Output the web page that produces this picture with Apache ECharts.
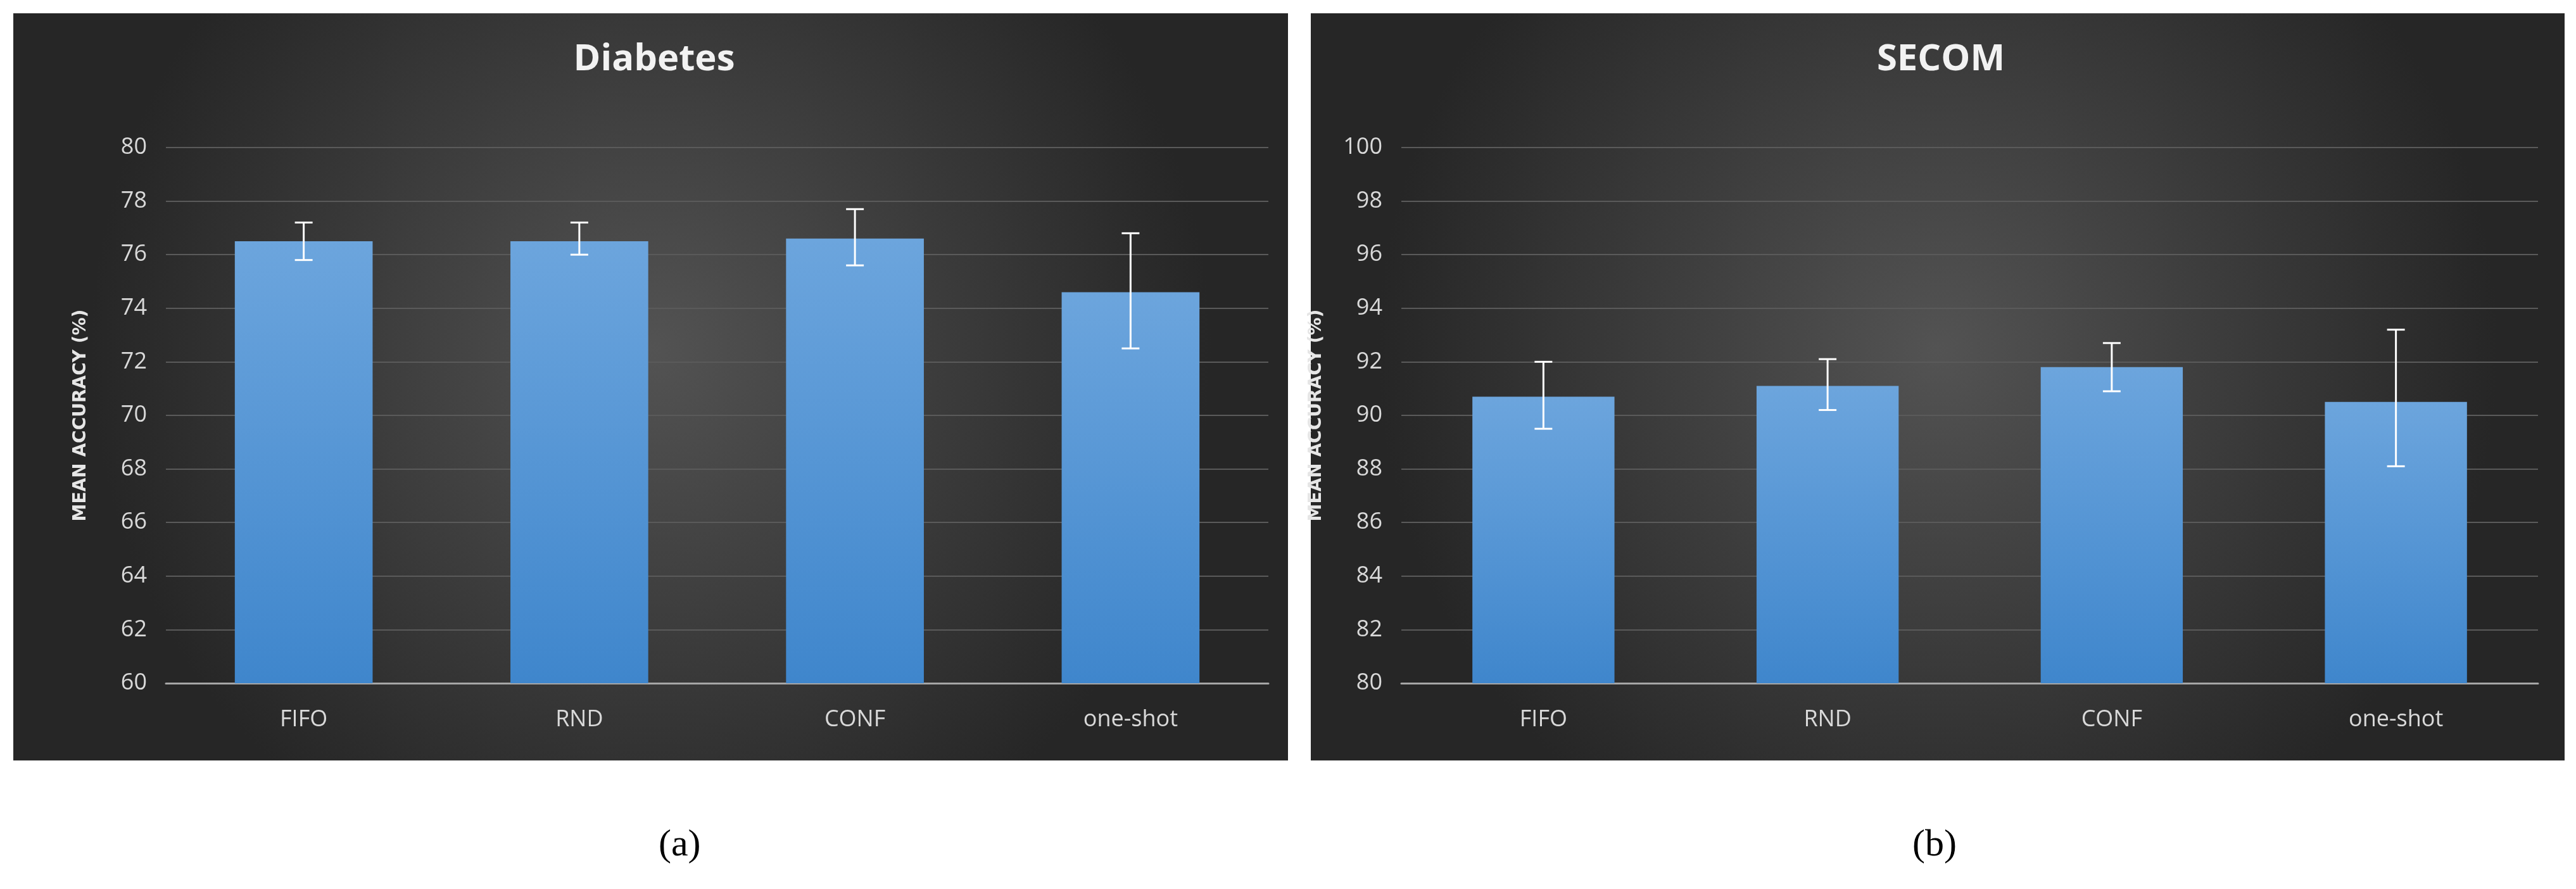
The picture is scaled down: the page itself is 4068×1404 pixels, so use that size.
<!DOCTYPE html>
<html>
<head>
<meta charset="utf-8">
<script src="https://cdn.jsdelivr.net/npm/echarts@6/dist/echarts.min.js"></script>
<style>html,body{margin:0;padding:0;background:#fff}#main{width:4068px;height:1404px}</style>
</head>
<body>
<div id="main"></div>
<script>
var categories = ['FIFO', 'RND', 'CONF', 'one-shot'];
var diabetesMean = [76.5, 76.5, 76.6, 74.6];
var diabetesLow = [75.8, 76.0, 75.6, 72.5];
var diabetesHigh = [77.2, 77.2, 77.7, 76.8];
var secomMean = [90.7, 91.1, 91.8, 90.5];
var secomLow = [89.5, 90.2, 90.9, 88.1];
var secomHigh = [92.0, 92.1, 92.7, 93.2];

var chart = echarts.init(document.getElementById('main'));

function panelBg(x, w) {
    return {
        type: 'rect', z: -10,
        shape: { x: x, y: 21, width: w, height: 1180 },
        style: {
            fill: new echarts.graphic.RadialGradient(0.5, 0.45, 0.75, [
                { offset: 0, color: '#535353' },
                { offset: 1, color: '#262626' }
            ])
        }
    };
}

var barColor = new echarts.graphic.LinearGradient(0, 0, 0, 1, [
    { offset: 0, color: '#6ca5dd' },
    { offset: 1, color: '#3f86cc' }
]);

function axisX(i) {
    return {
        type: 'category', gridIndex: i, data: categories,
        axisLine: { lineStyle: { color: '#a6a6a6', width: 3 } },
        axisTick: { show: false },
        axisLabel: { color: '#d9d9d9', fontSize: 36, margin: 40, fontFamily: 'Open Sans' }
    };
}
function axisY(i, min, max) {
    return {
        type: 'value', gridIndex: i, min: min, max: max, interval: 2,
        name: 'MEAN ACCURACY (%)', nameLocation: 'middle', nameGap: 120,
        nameTextStyle: { color: '#e6e6e6', fontSize: 28, fontWeight: 'bold', fontFamily: 'DejaVu Sans' },
        axisLine: { show: false }, axisTick: { show: false },
        axisLabel: { color: '#d9d9d9', fontSize: 36, margin: 30, fontFamily: 'Open Sans' },
        splitLine: { lineStyle: { color: '#5a5a5a', width: 2 } }
    };
}
function errSeries(i, low, high) {
    return {
        type: 'custom', xAxisIndex: i, yAxisIndex: i, z: 10,
        data: categories.map(function (c, k) { return [k, low[k], high[k]]; }),
        renderItem: function (params, api) {
            var lo = api.coord([api.value(0), api.value(1)]);
            var hi = api.coord([api.value(0), api.value(2)]);
            var hw = 14;
            var st = { stroke: '#ffffff', lineWidth: 3 };
            return {
                type: 'group', children: [
                    { type: 'line', shape: { x1: lo[0], y1: lo[1], x2: hi[0], y2: hi[1] }, style: st },
                    { type: 'line', shape: { x1: lo[0] - hw, y1: lo[1], x2: lo[0] + hw, y2: lo[1] }, style: st },
                    { type: 'line', shape: { x1: hi[0] - hw, y1: hi[1], x2: hi[0] + hw, y2: hi[1] }, style: st }
                ]
            };
        }
    };
}
function barSeries(i, data) {
    return {
        type: 'bar', xAxisIndex: i, yAxisIndex: i, data: data, barWidth: '50%',
        itemStyle: { color: barColor }
    };
}

chart.setOption({
    animation: false,
    graphic: [
        panelBg(21, 2013), panelBg(2070, 1980),
        { type: 'text', left: 1040, top: 1305, style: { text: '(a)', font: '60px "Liberation Serif"', fill: '#000' } },
        { type: 'text', left: 3020, top: 1305, style: { text: '(b)', font: '60px "Liberation Serif"', fill: '#000' } }
    ],
    title: [
        { text: 'Diabetes', left: 1028, top: 60, textAlign: 'center',
          textStyle: { color: '#f2f2f2', fontSize: 58, fontWeight: 'bold', fontFamily: 'Open Sans' } },
        { text: 'SECOM', left: 3060, top: 60, textAlign: 'center',
          textStyle: { color: '#f2f2f2', fontSize: 58, fontWeight: 'bold', fontFamily: 'Open Sans' } }
    ],
    grid: [
        { left: 262, top: 233, width: 1741, height: 846 },
        { left: 2213, top: 233, width: 1795, height: 846 }
    ],
    xAxis: [axisX(0), axisX(1)],
    yAxis: [axisY(0, 60, 80), axisY(1, 80, 100)],
    series: [
        barSeries(0, diabetesMean), errSeries(0, diabetesLow, diabetesHigh),
        barSeries(1, secomMean), errSeries(1, secomLow, secomHigh)
    ]
});
</script>
</body>
</html>
